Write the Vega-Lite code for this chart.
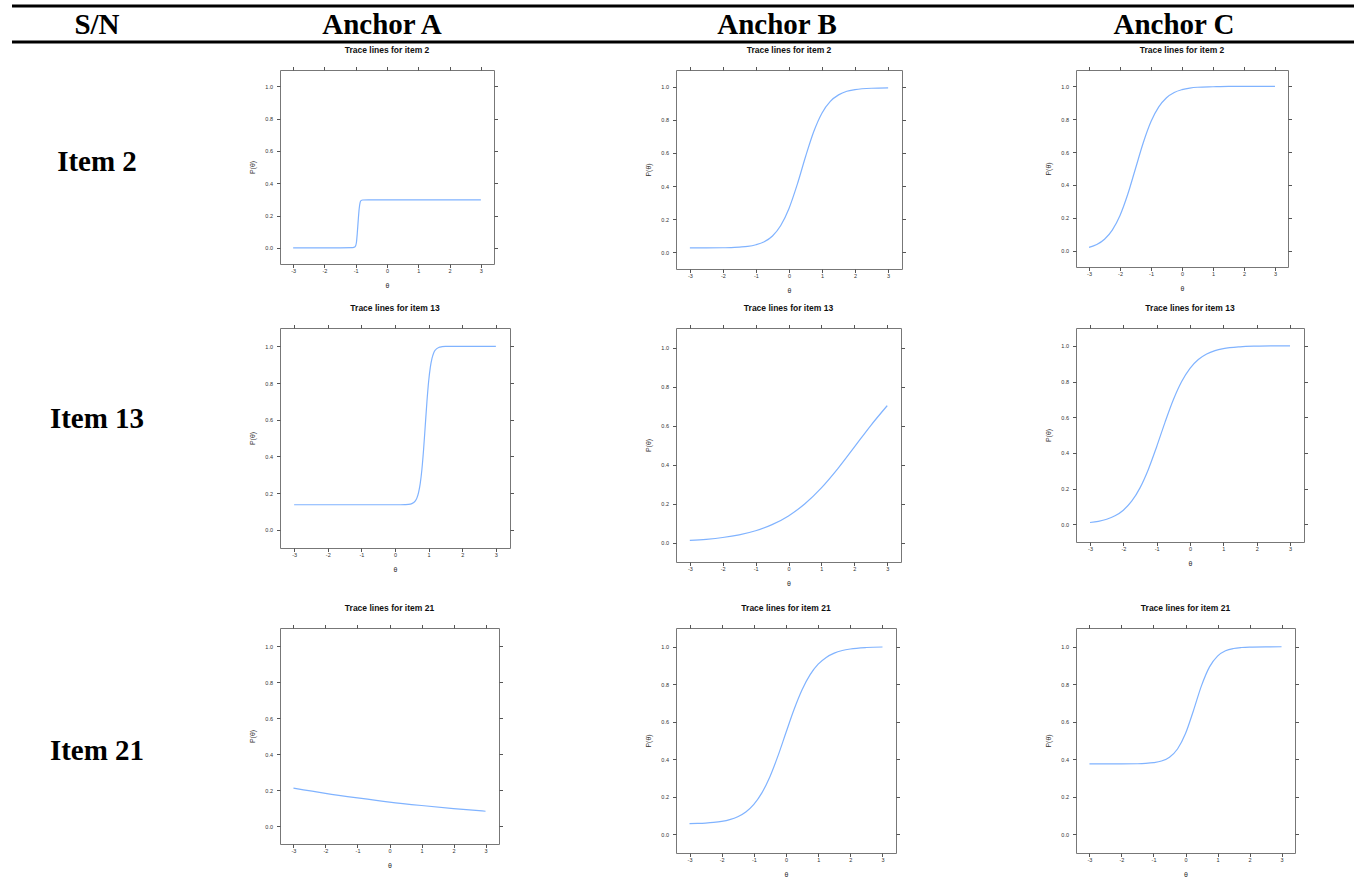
{
  "$schema": "https://vega.github.io/schema/vega-lite/v6.json",
  "padding": {"left": 10, "top": 4, "right": 0, "bottom": 0},
  "background": "white",
  "columns": 8,
  "spacing": 0,
  "bounds": "flush",
  "align": "each",
  "datasets": {
    "A2": [{"theta": -3, "p": 0}, {"theta": -2.5, "p": 0}, {"theta": -2, "p": 0}, {"theta": -1.5, "p": 0}, {"theta": -1.1, "p": 0.001}, {"theta": -1.02, "p": 0.006}, {"theta": -0.98, "p": 0.03}, {"theta": -0.95, "p": 0.09}, {"theta": -0.92, "p": 0.17}, {"theta": -0.89, "p": 0.24}, {"theta": -0.86, "p": 0.28}, {"theta": -0.83, "p": 0.292}, {"theta": -0.78, "p": 0.296}, {"theta": -0.6, "p": 0.297}, {"theta": 0, "p": 0.297}, {"theta": 1, "p": 0.297}, {"theta": 2, "p": 0.297}, {"theta": 3, "p": 0.297}],
    "B2": [{"theta": -3, "p": 0.027}, {"theta": -2.5, "p": 0.027}, {"theta": -2, "p": 0.028}, {"theta": -1.75, "p": 0.029}, {"theta": -1.5, "p": 0.032}, {"theta": -1.25, "p": 0.036}, {"theta": -1, "p": 0.046}, {"theta": -0.75, "p": 0.064}, {"theta": -0.5, "p": 0.099}, {"theta": -0.25, "p": 0.162}, {"theta": 0, "p": 0.265}, {"theta": 0.25, "p": 0.41}, {"theta": 0.5, "p": 0.577}, {"theta": 0.75, "p": 0.729}, {"theta": 1, "p": 0.841}, {"theta": 1.25, "p": 0.911}, {"theta": 1.5, "p": 0.95}, {"theta": 1.75, "p": 0.972}, {"theta": 2, "p": 0.982}, {"theta": 2.5, "p": 0.99}, {"theta": 3, "p": 0.992}],
    "C2": [{"theta": -3, "p": 0.02}, {"theta": -2.75, "p": 0.037}, {"theta": -2.5, "p": 0.069}, {"theta": -2.25, "p": 0.125}, {"theta": -2, "p": 0.214}, {"theta": -1.75, "p": 0.343}, {"theta": -1.5, "p": 0.5}, {"theta": -1.25, "p": 0.657}, {"theta": -1, "p": 0.786}, {"theta": -0.75, "p": 0.875}, {"theta": -0.5, "p": 0.931}, {"theta": -0.25, "p": 0.963}, {"theta": 0, "p": 0.98}, {"theta": 0.25, "p": 0.99}, {"theta": 0.5, "p": 0.995}, {"theta": 1, "p": 0.998}, {"theta": 1.5, "p": 1}, {"theta": 2, "p": 1}, {"theta": 2.5, "p": 1}, {"theta": 3, "p": 1}],
    "A13": [{"theta": -3, "p": 0.136}, {"theta": -2, "p": 0.136}, {"theta": -1, "p": 0.136}, {"theta": 0, "p": 0.136}, {"theta": 0.3, "p": 0.137}, {"theta": 0.4, "p": 0.138}, {"theta": 0.5, "p": 0.142}, {"theta": 0.6, "p": 0.156}, {"theta": 0.65, "p": 0.172}, {"theta": 0.7, "p": 0.202}, {"theta": 0.75, "p": 0.251}, {"theta": 0.8, "p": 0.328}, {"theta": 0.85, "p": 0.437}, {"theta": 0.9, "p": 0.568}, {"theta": 0.95, "p": 0.699}, {"theta": 1.0, "p": 0.808}, {"theta": 1.05, "p": 0.885}, {"theta": 1.1, "p": 0.934}, {"theta": 1.15, "p": 0.964}, {"theta": 1.2, "p": 0.98}, {"theta": 1.3, "p": 0.994}, {"theta": 1.4, "p": 0.998}, {"theta": 1.5, "p": 1}, {"theta": 2, "p": 1}, {"theta": 3, "p": 1}],
    "B13": [{"theta": -3, "p": 0.0105}, {"theta": -2.5, "p": 0.0164}, {"theta": -2, "p": 0.0255}, {"theta": -1.5, "p": 0.0393}, {"theta": -1, "p": 0.0604}, {"theta": -0.5, "p": 0.0915}, {"theta": 0, "p": 0.1365}, {"theta": 0.5, "p": 0.1986}, {"theta": 1, "p": 0.2799}, {"theta": 1.5, "p": 0.3787}, {"theta": 2, "p": 0.4888}, {"theta": 2.5, "p": 0.5999}, {"theta": 3, "p": 0.7016}],
    "C13": [{"theta": -3, "p": 0.0093}, {"theta": -2.75, "p": 0.0161}, {"theta": -2.5, "p": 0.0275}, {"theta": -2.25, "p": 0.0469}, {"theta": -2, "p": 0.0784}, {"theta": -1.75, "p": 0.1286}, {"theta": -1.5, "p": 0.2036}, {"theta": -1.25, "p": 0.3071}, {"theta": -1, "p": 0.4344}, {"theta": -0.75, "p": 0.571}, {"theta": -0.5, "p": 0.6976}, {"theta": -0.25, "p": 0.8}, {"theta": 0, "p": 0.8739}, {"theta": 0.25, "p": 0.9232}, {"theta": 0.5, "p": 0.9542}, {"theta": 0.75, "p": 0.973}, {"theta": 1, "p": 0.9843}, {"theta": 1.5, "p": 0.9947}, {"theta": 2, "p": 0.9982}, {"theta": 2.5, "p": 0.9994}, {"theta": 3, "p": 0.9998}],
    "A21": [{"theta": -3, "p": 0.21}, {"theta": -2, "p": 0.181}, {"theta": -1, "p": 0.156}, {"theta": 0, "p": 0.133}, {"theta": 1, "p": 0.114}, {"theta": 2, "p": 0.097}, {"theta": 3, "p": 0.082}],
    "B21": [{"theta": -3, "p": 0.0566}, {"theta": -2.75, "p": 0.0577}, {"theta": -2.5, "p": 0.0596}, {"theta": -2.25, "p": 0.0629}, {"theta": -2, "p": 0.0685}, {"theta": -1.75, "p": 0.0779}, {"theta": -1.5, "p": 0.0935}, {"theta": -1.25, "p": 0.119}, {"theta": -1, "p": 0.1594}, {"theta": -0.75, "p": 0.2208}, {"theta": -0.5, "p": 0.3071}, {"theta": -0.25, "p": 0.4178}, {"theta": 0, "p": 0.5427}, {"theta": 0.25, "p": 0.6656}, {"theta": 0.5, "p": 0.7709}, {"theta": 0.75, "p": 0.8513}, {"theta": 1, "p": 0.907}, {"theta": 1.25, "p": 0.9433}, {"theta": 1.5, "p": 0.9661}, {"theta": 1.75, "p": 0.9799}, {"theta": 2, "p": 0.9881}, {"theta": 2.5, "p": 0.9959}, {"theta": 3, "p": 0.9986}],
    "C21": [{"theta": -3, "p": 0.375}, {"theta": -2, "p": 0.3752}, {"theta": -1.5, "p": 0.3761}, {"theta": -1.25, "p": 0.3777}, {"theta": -1, "p": 0.3816}, {"theta": -0.75, "p": 0.3904}, {"theta": -0.5, "p": 0.4108}, {"theta": -0.25, "p": 0.4546}, {"theta": 0, "p": 0.537}, {"theta": 0.25, "p": 0.6603}, {"theta": 0.5, "p": 0.7926}, {"theta": 0.75, "p": 0.8928}, {"theta": 1, "p": 0.9504}, {"theta": 1.25, "p": 0.9783}, {"theta": 1.5, "p": 0.9908}, {"theta": 1.75, "p": 0.9961}, {"theta": 2, "p": 0.9984}, {"theta": 2.5, "p": 0.9997}, {"theta": 3, "p": 1}]
  },
  "concat": [
    {"width": 170, "height": 1, "view": {"stroke": null}, "data": {"values": [{}]}, "mark": {"type": "rule", "strokeWidth": 3, "color": "black"}, "encoding": {"y": {"datum": 1, "type": "quantitative", "scale": {"domain": [0, 1]}, "axis": null}}},
    {"width": 98, "height": 1, "view": {"stroke": null}, "data": {"values": [{}]}, "mark": {"type": "rule", "strokeWidth": 3, "color": "black"}, "encoding": {"y": {"datum": 1, "type": "quantitative", "scale": {"domain": [0, 1]}, "axis": null}}},
    {"width": 230, "height": 1, "view": {"stroke": null}, "data": {"values": [{}]}, "mark": {"type": "rule", "strokeWidth": 3, "color": "black"}, "encoding": {"y": {"datum": 1, "type": "quantitative", "scale": {"domain": [0, 1]}, "axis": null}}},
    {"width": 166, "height": 1, "view": {"stroke": null}, "data": {"values": [{}]}, "mark": {"type": "rule", "strokeWidth": 3, "color": "black"}, "encoding": {"y": {"datum": 1, "type": "quantitative", "scale": {"domain": [0, 1]}, "axis": null}}},
    {"width": 226, "height": 1, "view": {"stroke": null}, "data": {"values": [{}]}, "mark": {"type": "rule", "strokeWidth": 3, "color": "black"}, "encoding": {"y": {"datum": 1, "type": "quantitative", "scale": {"domain": [0, 1]}, "axis": null}}},
    {"width": 174, "height": 1, "view": {"stroke": null}, "data": {"values": [{}]}, "mark": {"type": "rule", "strokeWidth": 3, "color": "black"}, "encoding": {"y": {"datum": 1, "type": "quantitative", "scale": {"domain": [0, 1]}, "axis": null}}},
    {"width": 228, "height": 1, "view": {"stroke": null}, "data": {"values": [{}]}, "mark": {"type": "rule", "strokeWidth": 3, "color": "black"}, "encoding": {"y": {"datum": 1, "type": "quantitative", "scale": {"domain": [0, 1]}, "axis": null}}},
    {"width": 50, "height": 1, "view": {"stroke": null}, "data": {"values": [{}]}, "mark": {"type": "rule", "strokeWidth": 3, "color": "black"}, "encoding": {"y": {"datum": 1, "type": "quantitative", "scale": {"domain": [0, 1]}, "axis": null}}},

    {"width": 170, "height": 35, "view": {"stroke": null}, "data": {"values": [{"label": "S/N"}]}, "mark": {"type": "text", "font": "Liberation Serif", "fontWeight": "bold", "fontSize": 29, "baseline": "middle", "align": "center", "color": "black"}, "encoding": {"text": {"field": "label"}}},
    {"width": 1, "height": 1, "view": {"stroke": null}, "data": {"values": [{}]}, "mark": {"type": "point", "opacity": 0}, "encoding": {}},
    {"width": 204, "height": 35, "view": {"stroke": null}, "data": {"values": [{"label": "Anchor A"}]}, "mark": {"type": "text", "font": "Liberation Serif", "fontWeight": "bold", "fontSize": 29, "baseline": "middle", "align": "center", "color": "black"}, "encoding": {"text": {"field": "label"}}},
    {"width": 1, "height": 1, "view": {"stroke": null}, "data": {"values": [{}]}, "mark": {"type": "point", "opacity": 0}, "encoding": {}},
    {"width": 202, "height": 35, "view": {"stroke": null}, "data": {"values": [{"label": "Anchor B"}]}, "mark": {"type": "text", "font": "Liberation Serif", "fontWeight": "bold", "fontSize": 29, "baseline": "middle", "align": "center", "color": "black"}, "encoding": {"text": {"field": "label"}}},
    {"width": 1, "height": 1, "view": {"stroke": null}, "data": {"values": [{}]}, "mark": {"type": "point", "opacity": 0}, "encoding": {}},
    {"width": 196, "height": 35, "view": {"stroke": null}, "data": {"values": [{"label": "Anchor C"}]}, "mark": {"type": "text", "font": "Liberation Serif", "fontWeight": "bold", "fontSize": 29, "baseline": "middle", "align": "center", "color": "black"}, "encoding": {"text": {"field": "label"}}},
    {"width": 1, "height": 1, "view": {"stroke": null}, "data": {"values": [{}]}, "mark": {"type": "point", "opacity": 0}, "encoding": {}},

    {"width": 170, "height": 28, "view": {"stroke": null}, "data": {"values": [{}]}, "mark": {"type": "rule", "strokeWidth": 3, "color": "black"}, "encoding": {"y": {"datum": 1, "type": "quantitative", "scale": {"domain": [0, 1]}, "axis": null}}},
    {"width": 98, "height": 28, "view": {"stroke": null}, "data": {"values": [{}]}, "mark": {"type": "rule", "strokeWidth": 3, "color": "black"}, "encoding": {"y": {"datum": 1, "type": "quantitative", "scale": {"domain": [0, 1]}, "axis": null}}},
    {"width": 230, "height": 28, "view": {"stroke": null}, "data": {"values": [{}]}, "mark": {"type": "rule", "strokeWidth": 3, "color": "black"}, "encoding": {"y": {"datum": 1, "type": "quantitative", "scale": {"domain": [0, 1]}, "axis": null}}},
    {"width": 166, "height": 28, "view": {"stroke": null}, "data": {"values": [{}]}, "mark": {"type": "rule", "strokeWidth": 3, "color": "black"}, "encoding": {"y": {"datum": 1, "type": "quantitative", "scale": {"domain": [0, 1]}, "axis": null}}},
    {"width": 226, "height": 28, "view": {"stroke": null}, "data": {"values": [{}]}, "mark": {"type": "rule", "strokeWidth": 3, "color": "black"}, "encoding": {"y": {"datum": 1, "type": "quantitative", "scale": {"domain": [0, 1]}, "axis": null}}},
    {"width": 174, "height": 28, "view": {"stroke": null}, "data": {"values": [{}]}, "mark": {"type": "rule", "strokeWidth": 3, "color": "black"}, "encoding": {"y": {"datum": 1, "type": "quantitative", "scale": {"domain": [0, 1]}, "axis": null}}},
    {"width": 228, "height": 28, "view": {"stroke": null}, "data": {"values": [{}]}, "mark": {"type": "rule", "strokeWidth": 3, "color": "black"}, "encoding": {"y": {"datum": 1, "type": "quantitative", "scale": {"domain": [0, 1]}, "axis": null}}},
    {"width": 50, "height": 28, "view": {"stroke": null}, "data": {"values": [{}]}, "mark": {"type": "rule", "strokeWidth": 3, "color": "black"}, "encoding": {"y": {"datum": 1, "type": "quantitative", "scale": {"domain": [0, 1]}, "axis": null}}},

    {"width": 170, "height": 184, "view": {"stroke": null}, "data": {"values": [{"label": "Item 2"}]},
     "mark": {"type": "text", "font": "Liberation Serif", "fontWeight": "bold", "fontSize": 29, "baseline": "middle", "align": "center", "color": "black"}, "encoding": {"text": {"field": "label"}}},
    {"width": 98, "height": 258, "view": {"stroke": null}, "data": {"values": [{}]}, "mark": {"type": "point", "opacity": 0}, "encoding": {}},
    {"width": 214, "height": 194, "title": "Trace lines for item 2", "data": {"name": "A2"}, "view": {"stroke": "#777"},
     "layer": [
       {"mark": {"type": "line", "color": "#80b3ff", "strokeWidth": 1.2, "interpolate": "monotone"}, "encoding": {
         "x": {"field": "theta", "type": "quantitative", "scale": {"domain": [-3.42, 3.42], "nice": false, "zero": false}, "axis": {"orient": "bottom", "values": [-3, -2, -1, 0, 1, 2, 3], "labelExpr": "datum.value + ''", "labelFlush": false, "labelPadding": 1, "title": "θ", "titlePadding": 7}},
         "y": {"field": "p", "type": "quantitative", "scale": {"domain": [-0.1, 1.1], "nice": false, "zero": false}, "axis": {"orient": "left", "values": [0, 0.2, 0.4, 0.6, 0.8, 1], "format": ".1f", "labelPadding": 4, "title": "P(θ)", "titlePadding": 9}}}},
       {"mark": {"type": "line", "opacity": 0}, "encoding": {
         "x": {"field": "theta", "type": "quantitative", "scale": {"domain": [-3.42, 3.42], "nice": false, "zero": false}, "axis": {"orient": "top", "values": [-3, -2, -1, 0, 1, 2, 3], "labels": false, "title": null}},
         "y": {"field": "p", "type": "quantitative", "scale": {"domain": [-0.1, 1.1], "nice": false, "zero": false}, "axis": {"orient": "right", "values": [0, 0.2, 0.4, 0.6, 0.8, 1], "labels": false, "title": null}}}}
     ],
     "resolve": {"axis": {"x": "independent", "y": "independent"}}},
    {"width": 166, "height": 1, "view": {"stroke": null}, "data": {"values": [{}]}, "mark": {"type": "point", "opacity": 0}, "encoding": {}},
    {"width": 226, "height": 199, "title": "Trace lines for item 2", "data": {"name": "B2"}, "view": {"stroke": "#777"},
     "layer": [
       {"mark": {"type": "line", "color": "#80b3ff", "strokeWidth": 1.2, "interpolate": "monotone"}, "encoding": {
         "x": {"field": "theta", "type": "quantitative", "scale": {"domain": [-3.42, 3.42], "nice": false, "zero": false}, "axis": {"orient": "bottom", "values": [-3, -2, -1, 0, 1, 2, 3], "labelExpr": "datum.value + ''", "labelFlush": false, "labelPadding": 1, "title": "θ", "titlePadding": 7}},
         "y": {"field": "p", "type": "quantitative", "scale": {"domain": [-0.1, 1.1], "nice": false, "zero": false}, "axis": {"orient": "left", "values": [0, 0.2, 0.4, 0.6, 0.8, 1], "format": ".1f", "labelPadding": 4, "title": "P(θ)", "titlePadding": 9}}}},
       {"mark": {"type": "line", "opacity": 0}, "encoding": {
         "x": {"field": "theta", "type": "quantitative", "scale": {"domain": [-3.42, 3.42], "nice": false, "zero": false}, "axis": {"orient": "top", "values": [-3, -2, -1, 0, 1, 2, 3], "labels": false, "title": null}},
         "y": {"field": "p", "type": "quantitative", "scale": {"domain": [-0.1, 1.1], "nice": false, "zero": false}, "axis": {"orient": "right", "values": [0, 0.2, 0.4, 0.6, 0.8, 1], "labels": false, "title": null}}}}
     ],
     "resolve": {"axis": {"x": "independent", "y": "independent"}}},
    {"width": 174, "height": 1, "view": {"stroke": null}, "data": {"values": [{}]}, "mark": {"type": "point", "opacity": 0}, "encoding": {}},
    {"width": 212, "height": 197, "title": "Trace lines for item 2", "data": {"name": "C2"}, "view": {"stroke": "#777"},
     "layer": [
       {"mark": {"type": "line", "color": "#80b3ff", "strokeWidth": 1.2, "interpolate": "monotone"}, "encoding": {
         "x": {"field": "theta", "type": "quantitative", "scale": {"domain": [-3.42, 3.42], "nice": false, "zero": false}, "axis": {"orient": "bottom", "values": [-3, -2, -1, 0, 1, 2, 3], "labelExpr": "datum.value + ''", "labelFlush": false, "labelPadding": 1, "title": "θ", "titlePadding": 7}},
         "y": {"field": "p", "type": "quantitative", "scale": {"domain": [-0.1, 1.1], "nice": false, "zero": false}, "axis": {"orient": "left", "values": [0, 0.2, 0.4, 0.6, 0.8, 1], "format": ".1f", "labelPadding": 4, "title": "P(θ)", "titlePadding": 9}}}},
       {"mark": {"type": "line", "opacity": 0}, "encoding": {
         "x": {"field": "theta", "type": "quantitative", "scale": {"domain": [-3.42, 3.42], "nice": false, "zero": false}, "axis": {"orient": "top", "values": [-3, -2, -1, 0, 1, 2, 3], "labels": false, "title": null}},
         "y": {"field": "p", "type": "quantitative", "scale": {"domain": [-0.1, 1.1], "nice": false, "zero": false}, "axis": {"orient": "right", "values": [0, 0.2, 0.4, 0.6, 0.8, 1], "labels": false, "title": null}}}}
     ],
     "resolve": {"axis": {"x": "independent", "y": "independent"}}},
    {"width": 1, "height": 1, "view": {"stroke": null}, "data": {"values": [{}]}, "mark": {"type": "point", "opacity": 0}, "encoding": {}},

    {"width": 170, "height": 182, "view": {"stroke": null}, "data": {"values": [{"label": "Item 13"}]},
     "mark": {"type": "text", "font": "Liberation Serif", "fontWeight": "bold", "fontSize": 29, "baseline": "middle", "align": "center", "color": "black"}, "encoding": {"text": {"field": "label"}}},
    {"width": 98, "height": 300, "view": {"stroke": null}, "data": {"values": [{}]}, "mark": {"type": "point", "opacity": 0}, "encoding": {}},
    {"width": 230, "height": 220, "title": "Trace lines for item 13", "data": {"name": "A13"}, "view": {"stroke": "#777"},
     "layer": [
       {"mark": {"type": "line", "color": "#80b3ff", "strokeWidth": 1.2, "interpolate": "monotone"}, "encoding": {
         "x": {"field": "theta", "type": "quantitative", "scale": {"domain": [-3.42, 3.42], "nice": false, "zero": false}, "axis": {"orient": "bottom", "values": [-3, -2, -1, 0, 1, 2, 3], "labelExpr": "datum.value + ''", "labelFlush": false, "labelPadding": 1, "title": "θ", "titlePadding": 7}},
         "y": {"field": "p", "type": "quantitative", "scale": {"domain": [-0.1, 1.1], "nice": false, "zero": false}, "axis": {"orient": "left", "values": [0, 0.2, 0.4, 0.6, 0.8, 1], "format": ".1f", "labelPadding": 4, "title": "P(θ)", "titlePadding": 9}}}},
       {"mark": {"type": "line", "opacity": 0}, "encoding": {
         "x": {"field": "theta", "type": "quantitative", "scale": {"domain": [-3.42, 3.42], "nice": false, "zero": false}, "axis": {"orient": "top", "values": [-3, -2, -1, 0, 1, 2, 3], "labels": false, "title": null}},
         "y": {"field": "p", "type": "quantitative", "scale": {"domain": [-0.1, 1.1], "nice": false, "zero": false}, "axis": {"orient": "right", "values": [0, 0.2, 0.4, 0.6, 0.8, 1], "labels": false, "title": null}}}}
     ],
     "resolve": {"axis": {"x": "independent", "y": "independent"}}},
    {"width": 166, "height": 1, "view": {"stroke": null}, "data": {"values": [{}]}, "mark": {"type": "point", "opacity": 0}, "encoding": {}},
    {"width": 225, "height": 234, "title": "Trace lines for item 13", "data": {"name": "B13"}, "view": {"stroke": "#777"},
     "layer": [
       {"mark": {"type": "line", "color": "#80b3ff", "strokeWidth": 1.2, "interpolate": "monotone"}, "encoding": {
         "x": {"field": "theta", "type": "quantitative", "scale": {"domain": [-3.42, 3.42], "nice": false, "zero": false}, "axis": {"orient": "bottom", "values": [-3, -2, -1, 0, 1, 2, 3], "labelExpr": "datum.value + ''", "labelFlush": false, "labelPadding": 1, "title": "θ", "titlePadding": 7}},
         "y": {"field": "p", "type": "quantitative", "scale": {"domain": [-0.1, 1.1], "nice": false, "zero": false}, "axis": {"orient": "left", "values": [0, 0.2, 0.4, 0.6, 0.8, 1], "format": ".1f", "labelPadding": 4, "title": "P(θ)", "titlePadding": 9}}}},
       {"mark": {"type": "line", "opacity": 0}, "encoding": {
         "x": {"field": "theta", "type": "quantitative", "scale": {"domain": [-3.42, 3.42], "nice": false, "zero": false}, "axis": {"orient": "top", "values": [-3, -2, -1, 0, 1, 2, 3], "labels": false, "title": null}},
         "y": {"field": "p", "type": "quantitative", "scale": {"domain": [-0.1, 1.1], "nice": false, "zero": false}, "axis": {"orient": "right", "values": [0, 0.2, 0.4, 0.6, 0.8, 1], "labels": false, "title": null}}}}
     ],
     "resolve": {"axis": {"x": "independent", "y": "independent"}}},
    {"width": 174, "height": 1, "view": {"stroke": null}, "data": {"values": [{}]}, "mark": {"type": "point", "opacity": 0}, "encoding": {}},
    {"width": 228, "height": 214, "title": "Trace lines for item 13", "data": {"name": "C13"}, "view": {"stroke": "#777"},
     "layer": [
       {"mark": {"type": "line", "color": "#80b3ff", "strokeWidth": 1.2, "interpolate": "monotone"}, "encoding": {
         "x": {"field": "theta", "type": "quantitative", "scale": {"domain": [-3.42, 3.42], "nice": false, "zero": false}, "axis": {"orient": "bottom", "values": [-3, -2, -1, 0, 1, 2, 3], "labelExpr": "datum.value + ''", "labelFlush": false, "labelPadding": 1, "title": "θ", "titlePadding": 7}},
         "y": {"field": "p", "type": "quantitative", "scale": {"domain": [-0.1, 1.1], "nice": false, "zero": false}, "axis": {"orient": "left", "values": [0, 0.2, 0.4, 0.6, 0.8, 1], "format": ".1f", "labelPadding": 4, "title": "P(θ)", "titlePadding": 9}}}},
       {"mark": {"type": "line", "opacity": 0}, "encoding": {
         "x": {"field": "theta", "type": "quantitative", "scale": {"domain": [-3.42, 3.42], "nice": false, "zero": false}, "axis": {"orient": "top", "values": [-3, -2, -1, 0, 1, 2, 3], "labels": false, "title": null}},
         "y": {"field": "p", "type": "quantitative", "scale": {"domain": [-0.1, 1.1], "nice": false, "zero": false}, "axis": {"orient": "right", "values": [0, 0.2, 0.4, 0.6, 0.8, 1], "labels": false, "title": null}}}}
     ],
     "resolve": {"axis": {"x": "independent", "y": "independent"}}},
    {"width": 1, "height": 1, "view": {"stroke": null}, "data": {"values": [{}]}, "mark": {"type": "point", "opacity": 0}, "encoding": {}},

    {"width": 170, "height": 246, "view": {"stroke": null}, "data": {"values": [{"label": "Item 21"}]},
     "mark": {"type": "text", "font": "Liberation Serif", "fontWeight": "bold", "fontSize": 29, "baseline": "middle", "align": "center", "color": "black"}, "encoding": {"text": {"field": "label"}}},
    {"width": 98, "height": 225, "view": {"stroke": null}, "data": {"values": [{}]}, "mark": {"type": "point", "opacity": 0}, "encoding": {}},
    {"width": 219, "height": 216, "title": "Trace lines for item 21", "data": {"name": "A21"}, "view": {"stroke": "#777"},
     "layer": [
       {"mark": {"type": "line", "color": "#80b3ff", "strokeWidth": 1.2, "interpolate": "monotone"}, "encoding": {
         "x": {"field": "theta", "type": "quantitative", "scale": {"domain": [-3.42, 3.42], "nice": false, "zero": false}, "axis": {"orient": "bottom", "values": [-3, -2, -1, 0, 1, 2, 3], "labelExpr": "datum.value + ''", "labelFlush": false, "labelPadding": 1, "title": "θ", "titlePadding": 7}},
         "y": {"field": "p", "type": "quantitative", "scale": {"domain": [-0.1, 1.1], "nice": false, "zero": false}, "axis": {"orient": "left", "values": [0, 0.2, 0.4, 0.6, 0.8, 1], "format": ".1f", "labelPadding": 4, "title": "P(θ)", "titlePadding": 9}}}},
       {"mark": {"type": "line", "opacity": 0}, "encoding": {
         "x": {"field": "theta", "type": "quantitative", "scale": {"domain": [-3.42, 3.42], "nice": false, "zero": false}, "axis": {"orient": "top", "values": [-3, -2, -1, 0, 1, 2, 3], "labels": false, "title": null}},
         "y": {"field": "p", "type": "quantitative", "scale": {"domain": [-0.1, 1.1], "nice": false, "zero": false}, "axis": {"orient": "right", "values": [0, 0.2, 0.4, 0.6, 0.8, 1], "labels": false, "title": null}}}}
     ],
     "resolve": {"axis": {"x": "independent", "y": "independent"}}},
    {"width": 166, "height": 1, "view": {"stroke": null}, "data": {"values": [{}]}, "mark": {"type": "point", "opacity": 0}, "encoding": {}},
    {"width": 220, "height": 225, "title": "Trace lines for item 21", "data": {"name": "B21"}, "view": {"stroke": "#777"},
     "layer": [
       {"mark": {"type": "line", "color": "#80b3ff", "strokeWidth": 1.2, "interpolate": "monotone"}, "encoding": {
         "x": {"field": "theta", "type": "quantitative", "scale": {"domain": [-3.42, 3.42], "nice": false, "zero": false}, "axis": {"orient": "bottom", "values": [-3, -2, -1, 0, 1, 2, 3], "labelExpr": "datum.value + ''", "labelFlush": false, "labelPadding": 1, "title": "θ", "titlePadding": 7}},
         "y": {"field": "p", "type": "quantitative", "scale": {"domain": [-0.1, 1.1], "nice": false, "zero": false}, "axis": {"orient": "left", "values": [0, 0.2, 0.4, 0.6, 0.8, 1], "format": ".1f", "labelPadding": 4, "title": "P(θ)", "titlePadding": 9}}}},
       {"mark": {"type": "line", "opacity": 0}, "encoding": {
         "x": {"field": "theta", "type": "quantitative", "scale": {"domain": [-3.42, 3.42], "nice": false, "zero": false}, "axis": {"orient": "top", "values": [-3, -2, -1, 0, 1, 2, 3], "labels": false, "title": null}},
         "y": {"field": "p", "type": "quantitative", "scale": {"domain": [-0.1, 1.1], "nice": false, "zero": false}, "axis": {"orient": "right", "values": [0, 0.2, 0.4, 0.6, 0.8, 1], "labels": false, "title": null}}}}
     ],
     "resolve": {"axis": {"x": "independent", "y": "independent"}}},
    {"width": 174, "height": 1, "view": {"stroke": null}, "data": {"values": [{}]}, "mark": {"type": "point", "opacity": 0}, "encoding": {}},
    {"width": 219, "height": 225, "title": "Trace lines for item 21", "data": {"name": "C21"}, "view": {"stroke": "#777"},
     "layer": [
       {"mark": {"type": "line", "color": "#80b3ff", "strokeWidth": 1.2, "interpolate": "monotone"}, "encoding": {
         "x": {"field": "theta", "type": "quantitative", "scale": {"domain": [-3.42, 3.42], "nice": false, "zero": false}, "axis": {"orient": "bottom", "values": [-3, -2, -1, 0, 1, 2, 3], "labelExpr": "datum.value + ''", "labelFlush": false, "labelPadding": 1, "title": "θ", "titlePadding": 7}},
         "y": {"field": "p", "type": "quantitative", "scale": {"domain": [-0.1, 1.1], "nice": false, "zero": false}, "axis": {"orient": "left", "values": [0, 0.2, 0.4, 0.6, 0.8, 1], "format": ".1f", "labelPadding": 4, "title": "P(θ)", "titlePadding": 9}}}},
       {"mark": {"type": "line", "opacity": 0}, "encoding": {
         "x": {"field": "theta", "type": "quantitative", "scale": {"domain": [-3.42, 3.42], "nice": false, "zero": false}, "axis": {"orient": "top", "values": [-3, -2, -1, 0, 1, 2, 3], "labels": false, "title": null}},
         "y": {"field": "p", "type": "quantitative", "scale": {"domain": [-0.1, 1.1], "nice": false, "zero": false}, "axis": {"orient": "right", "values": [0, 0.2, 0.4, 0.6, 0.8, 1], "labels": false, "title": null}}}}
     ],
     "resolve": {"axis": {"x": "independent", "y": "independent"}}},
    {"width": 1, "height": 1, "view": {"stroke": null}, "data": {"values": [{}]}, "mark": {"type": "point", "opacity": 0}, "encoding": {}}
  ],
  "config": {
    "view": {"stroke": null},
    "axis": {"grid": false, "domain": false, "ticks": true, "tickColor": "#555", "tickSize": 3.5, "tickWidth": 1, "labelFont": "Liberation Sans", "labelFontSize": 5.5, "labelColor": "#333", "labelOverlap": false, "titleFont": "Liberation Sans", "titleFontSize": 7, "titleFontWeight": "normal", "titleColor": "#333"},
    "title": {"font": "Liberation Sans", "fontSize": 8.5, "fontWeight": "bold", "color": "#111", "anchor": "middle", "offset": 12}
  }
}
